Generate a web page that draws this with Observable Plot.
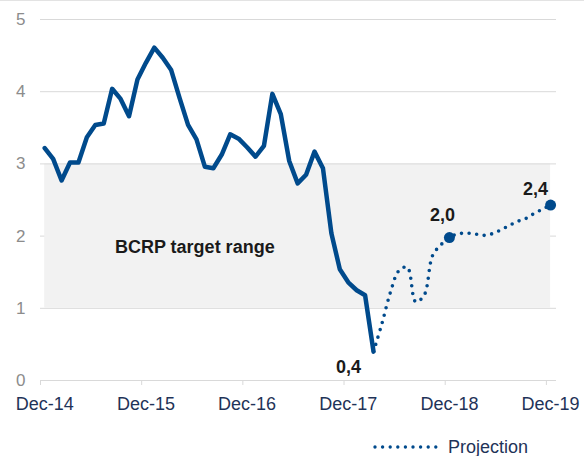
<!DOCTYPE html>
<html><head><meta charset="utf-8">
<script src="https://cdn.jsdelivr.net/npm/d3@7"></script>
<script src="https://cdn.jsdelivr.net/npm/@observablehq/plot@0.6"></script>
<style>
body{margin:0;background:#fff;font-family:"Liberation Sans",Arial,sans-serif;}
#wrap{position:relative;width:584px;height:456px;overflow:hidden;background:#fff}
#topline{position:absolute;left:0;top:0;width:584px;height:1px;background:#e3e3e3}
#legend{position:absolute;left:0;top:430px;width:584px;height:26px}
</style></head><body>
<div id="wrap"><div id="chart"></div><div id="legend"></div><div id="topline"></div></div>
<script>
// Tick labels (months since Dec-14)
const tickMonths = [0, 12, 24, 36, 48, 60];
const tickLabels = ["Dec-14", "Dec-15", "Dec-16", "Dec-17", "Dec-18", "Dec-19"];
const yTicks = [0, 1, 2, 3, 4, 5];

// Observed 12-month inflation, Dec-14 .. Mar-18 (monthly)
const actual = [3.22, 3.07, 2.77, 3.02, 3.02, 3.37, 3.54, 3.56, 4.04, 3.90, 3.66, 4.17,
  4.40, 4.61, 4.47, 4.30, 3.91, 3.54, 3.34, 2.96, 2.94, 3.13, 3.41, 3.35,
  3.23, 3.10, 3.25, 3.97, 3.69, 3.04, 2.73, 2.85, 3.17, 2.94, 2.04, 1.54,
  1.36, 1.25, 1.18, 0.40];

// Projection, Mar-18 .. Dec-19 (monthly)
const projStart = 39;
const projection = [0.40, 0.79, 1.22, 1.52, 1.57, 1.09, 1.18, 1.73, 1.88, 1.98,
  2.03, 2.04, 2.03, 2.01, 2.03, 2.08, 2.14, 2.20, 2.24, 2.31, 2.37, 2.43];

// Target range
const targetRange = [1, 3];
const targetLabel = "BCRP target range";
const targetLabelPos = [18.3, 1.85];

// Marked points and labels
const markerMonths = [48, 60];
const labelMonths = [39, 48, 60];
const labelTexts = ["0,4", "2,0", "2,4"];
const legendLabel = "Projection";

const BLUE = "#004a8c";
const NAVY = "#1f3358";
const GRID = "#d9d9d9";

const actualData = actual.map((v, i) => ({x: i + 0.5, v}));
const projData = projection.map((v, i) => ({x: projStart + i + 0.5, v}));
const valueAt = m => {
  const p = projData.find(d => d.x === m + 0.5);
  return p ? p.v : actual[m];
};
const markers = markerMonths.map(m => ({x: m + 0.5, v: valueAt(m)}));
const labels = labelMonths.map((m, i) => ({x: m + 0.5, v: valueAt(m), t: labelTexts[i]}));
const labelOffsets = [[-25, 16], [-7, -22], [-15, -16]];
const tickMap = new Map(tickMonths.map((m, i) => [m + 0.5, tickLabels[i]]));

const chart = Plot.plot({
  width: 584, height: 430,
  marginLeft: 40, marginRight: 28, marginTop: 19, marginBottom: 50,
  x: {domain: [0, 61.2], axis: null},
  y: {domain: [0, 5], axis: null},
  style: {fontFamily: '"Liberation Sans", Arial, sans-serif', background: "transparent"},
  marks: [
    Plot.ruleY(yTicks.filter(t => t > targetRange[0] - 0.01 && t < targetRange[1]), {stroke: GRID}),
    Plot.rect([targetRange], {x1: () => 0.5, x2: () => 60.5, y1: d => d[0], y2: d => d[1], fill: "#f2f2f2"}),
    Plot.ruleY(yTicks.filter(t => t < targetRange[0] || t >= targetRange[1]), {stroke: GRID}),
    Plot.axisY({ticks: yTicks, tickSize: 0, tickPadding: 15, fontSize: 17, color: "#8c8c8c", label: null,
      tickFormat: d => String(d)}),
    Plot.axisX({ticks: tickMonths, tickSize: 5, tickFormat: () => "", color: GRID, label: null}),
    Plot.axisX({ticks: tickMonths.map(m => m + 0.5), tickSize: 0, tickPadding: 17, tickFormat: d => tickMap.get(d),
      fontSize: 18, color: NAVY, label: null}),
    Plot.text([targetLabel], {x: () => targetLabelPos[0], y: () => targetLabelPos[1], text: d => d,
      fontSize: 18, fontWeight: "bold", fill: "#1a1a1a"}),
    Plot.line(projData, {x: "x", y: "v", stroke: BLUE, strokeWidth: 3.6, strokeDasharray: "0 7.6",
      strokeLinecap: "round", curve: "catmull-rom"}),
    Plot.line(actualData, {x: "x", y: "v", stroke: BLUE, strokeWidth: 4.5}),
    Plot.dot(markers, {x: "x", y: "v", r: 5.5, fill: BLUE}),
    ...labels.map((d, i) => Plot.text([d], {x: "x", y: "v", text: "t", dx: labelOffsets[i][0], dy: labelOffsets[i][1],
      fontSize: 18, fontWeight: "bold", fill: "#1a1a1a"}))
  ]
});
document.getElementById("chart").appendChild(chart);

// Legend below the chart
const ns = "http://www.w3.org/2000/svg";
const lg = document.createElementNS(ns, "svg");
lg.setAttribute("width", 584); lg.setAttribute("height", 26);
const ln = document.createElementNS(ns, "line");
ln.setAttribute("x1", 375); ln.setAttribute("x2", 436); ln.setAttribute("y1", 17); ln.setAttribute("y2", 17);
ln.setAttribute("stroke", BLUE); ln.setAttribute("stroke-width", 3.4);
ln.setAttribute("stroke-dasharray", "0 7.6"); ln.setAttribute("stroke-linecap", "round");
lg.appendChild(ln);
const tx = document.createElementNS(ns, "text");
tx.setAttribute("x", 448); tx.setAttribute("y", 17); tx.setAttribute("dominant-baseline", "central");
tx.setAttribute("font-size", 18); tx.setAttribute("fill", NAVY);
tx.setAttribute("font-family", '"Liberation Sans", Arial, sans-serif');
tx.textContent = legendLabel;
lg.appendChild(tx);
document.getElementById("legend").appendChild(lg);
</script>
</body></html>
